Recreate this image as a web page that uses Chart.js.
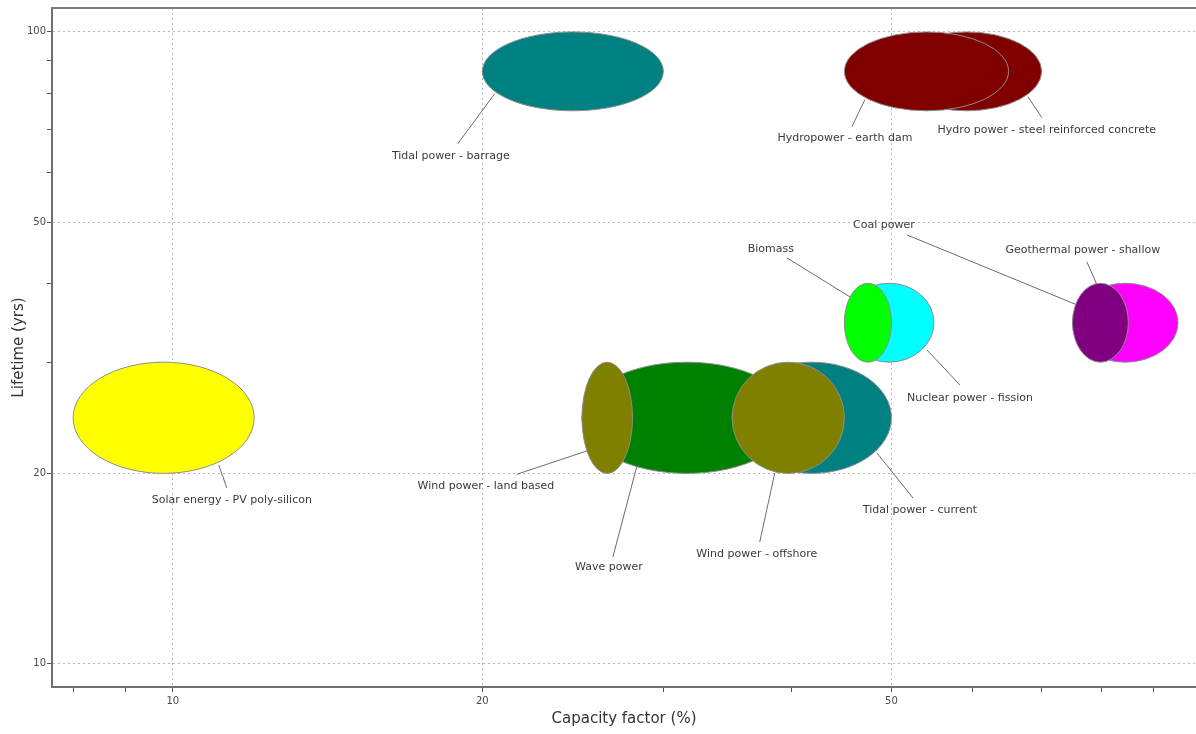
<!DOCTYPE html>
<html lang="en">
<head>
  <meta charset="UTF-8" />
  <title>Capacity factor vs lifetime</title>
  <script src="https://cdn.jsdelivr.net/npm/chart.js"></script>
  <style>
    html, body { margin: 0; padding: 0; background: #fff; }
    #wrap { width: 1196px; height: 734px; }
  </style>
</head>
<body>
  <div id="wrap"><canvas id="chart" width="1196" height="734"></canvas></div>

  <script>
    // technologies, in drawing order (later ones sit on top)
    const techNames = [
      'Solar energy - PV poly-silicon',
      'Tidal power - barrage',
      'Hydro power - steel reinforced concrete',
      'Hydropower - earth dam',
      'Nuclear power - fission',
      'Biomass',
      'Geothermal power - shallow',
      'Coal power',
      'Wind power - land based',
      'Tidal power - current',
      'Wave power',
      'Wind power - offshore'
    ];
    // capacity factor range (%)
    const cfLow  = [8, 20, 50, 45, 45, 45, 75, 75, 25, 35, 25, 35];
    const cfHigh = [12, 30, 70, 65, 55, 50, 95, 85, 40, 50, 28, 45];
    // lifetime range (yrs)
    const lifeLow  = [20, 75, 75, 75, 30, 30, 30, 30, 20, 20, 20, 20];
    const lifeHigh = [30, 100, 100, 100, 40, 40, 40, 40, 30, 30, 30, 30];

    const xTicks = [8, 9, 10, 20, 30, 40, 50, 60, 70, 80, 90];
    const xTickLabels = [10, 20, 50];
    const yTicks = [10, 20, 30, 40, 50, 60, 70, 80, 90, 100];
    const yTickLabels = [10, 20, 50, 100];

    const fills = ['#ffff00', '#008080', '#800000', '#800000', '#00ffff', '#00ff00',
                   '#ff00ff', '#800080', '#008000', '#008080', '#808000', '#808000'];

    // label placement: point on ellipse (fraction of radii), leader end offset, text offset (px)
    const labelLayout = [
      [0.609, 0.849, 8, 23, 13, 35],
      [-0.862, 0.566, -37, 50, -44, 62],
      [0.816, 0.642, 14, 21, 19, 33],
      [-0.75, 0.718, -13, 27, -20, 38],
      [0.842, 0.69, 33, 35, 43, 48],
      [-0.766, -0.655, -63, -39, -79, -48],
      [-0.519, -0.909, -11, -25, -15, -37],
      [-0.843, -0.452, -170, -70, -193, -80],
      [-0.848, 0.53, -81, 27, -112, 39],
      [0.818, 0.633, 36, 45, 43, 57],
      [1.29, 0.669, -27, 102, -31, 112],
      [-0.241, 0.993, -15, 69, -18, 81]
    ];

    const font = '"DejaVu Sans", Tahoma, sans-serif';

    const ellipses = {
      id: 'ellipses',
      afterDatasetsDraw(chart) {
        const {ctx, scales: {x, y}, chartArea} = chart;
        const geo = techNames.map((n, i) => {
          const x1 = x.getPixelForValue(cfLow[i]), x2 = x.getPixelForValue(cfHigh[i]);
          const y1 = y.getPixelForValue(lifeHigh[i]), y2 = y.getPixelForValue(lifeLow[i]);
          return {cx: (x1 + x2) / 2, cy: (y1 + y2) / 2, rx: (x2 - x1) / 2, ry: (y2 - y1) / 2};
        });

        ctx.save();
        // top frame line
        ctx.strokeStyle = '#808080';
        ctx.lineWidth = 2;
        ctx.beginPath();
        ctx.moveTo(chartArea.left, chartArea.top);
        ctx.lineTo(chartArea.right, chartArea.top);
        ctx.stroke();

        // leader lines
        ctx.strokeStyle = '#6a6a6a';
        ctx.lineWidth = 1;
        geo.forEach((g, i) => {
          const [ax, ay, lx, ly] = labelLayout[i];
          const px = g.cx + g.rx * ax, py = g.cy + g.ry * ay;
          ctx.beginPath();
          ctx.moveTo(px, py);
          ctx.lineTo(px + lx, py + ly);
          ctx.stroke();
        });

        // ellipses
        geo.forEach((g, i) => {
          ctx.beginPath();
          ctx.ellipse(g.cx, g.cy, g.rx, g.ry, 0, 0, Math.PI * 2);
          ctx.fillStyle = fills[i];
          ctx.fill();
          ctx.strokeStyle = '#8c8c8c';
          ctx.lineWidth = 1;
          ctx.stroke();
        });

        // labels
        ctx.fillStyle = '#3a3a3a';
        ctx.font = '11px ' + font;
        ctx.textAlign = 'center';
        ctx.textBaseline = 'middle';
        geo.forEach((g, i) => {
          const [ax, ay, , , tx, ty] = labelLayout[i];
          ctx.fillText(techNames[i], g.cx + g.rx * ax + tx, g.cy + g.ry * ay + ty);
        });
        ctx.restore();
      }
    };

    const centers = techNames.map((n, i) => ({
      x: Math.sqrt(cfLow[i] * cfHigh[i]),
      y: Math.sqrt(lifeLow[i] * lifeHigh[i])
    }));

    function axis(ticksList, labelList, min, max, title, isX) {
      return {
        type: 'logarithmic',
        min: min,
        max: max,
        afterBuildTicks: s => { s.ticks = ticksList.map(v => ({value: v})); },
        afterFit: s => { if (isX) s.height = 47; else s.width = 52; },
        ticks: {
          autoSkip: false,
          maxRotation: 0,
          padding: isX ? 3 : 1,
          color: '#4a4a4a',
          font: {family: font, size: 10},
          callback: v => labelList.includes(v) ? String(v) : ''
        },
        grid: {
          color: c => labelList.includes(c.tick && c.tick.value) ? '#b8b8b8' : 'rgba(0,0,0,0)',
          tickColor: '#555',
          tickLength: 5,
          tickBorderDash: [],
          lineWidth: 1
        },
        border: {display: true, color: '#707070', width: 2, dash: [2, 3]},
        title: {
          display: true,
          text: title,
          color: '#333',
          font: {family: font, size: 15},
          padding: isX ? {bottom: 6, top: 0} : {top: 10, bottom: 0}
        }
      };
    }

    new Chart(document.getElementById('chart').getContext('2d'), {
      type: 'scatter',
      data: {
        datasets: [{
          label: 'Technologies',
          data: centers,
          pointRadius: 0,
          pointHoverRadius: 0
        }]
      },
      options: {
        responsive: false,
        animation: false,
        layout: {padding: {top: 8, right: 0, bottom: 0, left: 0}},
        plugins: {
          legend: {display: false},
          tooltip: {enabled: false}
        },
        scales: {
          x: axis(xTicks, xTickLabels, 7.63, 98.9, 'Capacity factor (%)', true),
          y: axis(yTicks, yTickLabels, 9.18, 109.1, 'Lifetime (yrs)', false)
        }
      },
      plugins: [ellipses]
    });
  </script>
</body>
</html>
